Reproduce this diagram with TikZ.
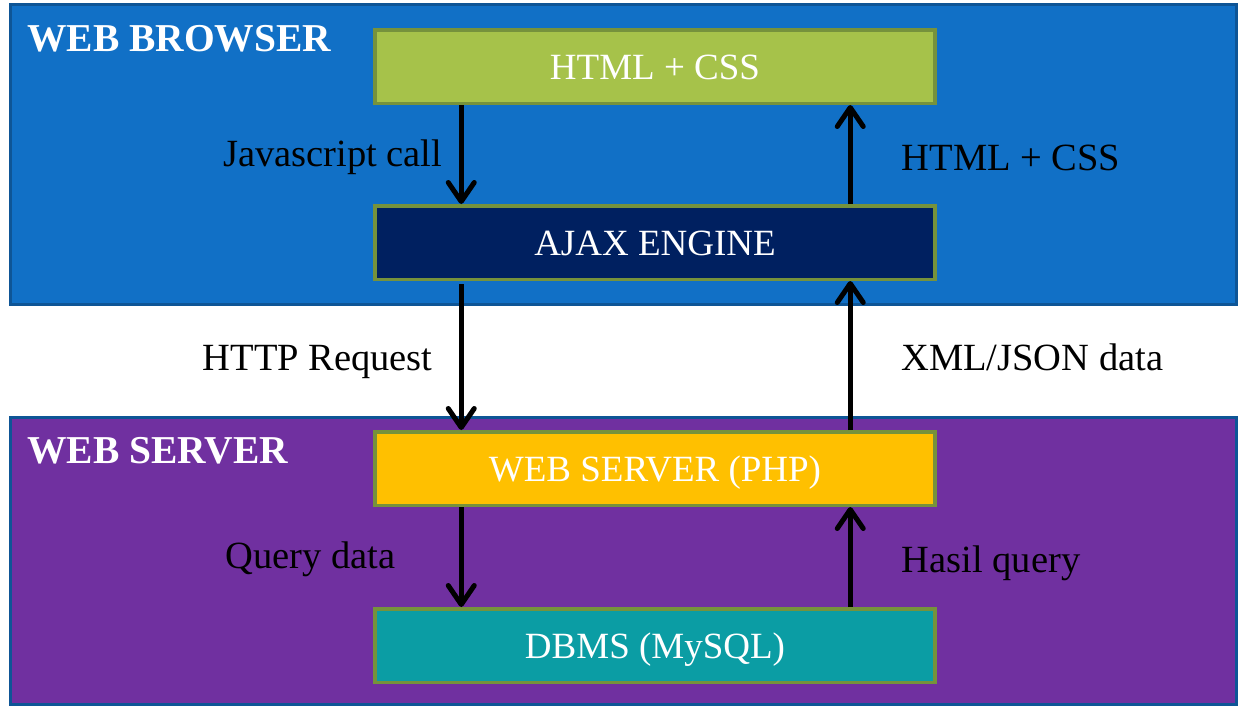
\documentclass[tikz,border=0pt]{standalone}
\usepackage{fontspec}
\setmainfont{Liberation Serif}
\usetikzlibrary{arrows.meta}
\definecolor{panelblue}{HTML}{1170C6}
\definecolor{panelpurple}{HTML}{7030A0}
\definecolor{paneledge}{HTML}{0E5596}
\definecolor{boxedge}{HTML}{76923C}
\definecolor{htmlgreen}{HTML}{A6C24A}
\definecolor{ajaxnavy}{HTML}{002060}
\definecolor{phpyellow}{HTML}{FFC000}
\definecolor{dbteal}{HTML}{0B9DA4}
\tikzset{
  panel/.style={draw=paneledge, line width=3pt, inner sep=0pt, minimum width=1225.5pt, minimum height=300pt},
  compbox/.style={draw=boxedge, line width=3.5pt, inner sep=0pt, minimum width=560pt, minimum height=73.5pt,
    text=white, font=\fontsize{37}{40}\selectfont, text height=26pt, text depth=0pt},
  title/.style={anchor=base west, inner sep=0pt, text=white, font=\fontsize{39.5}{44}\selectfont\bfseries},
  lbl/.style={anchor=base west, inner sep=0pt, text=black, font=\fontsize{38.5}{42}\selectfont},
  flow/.style={line width=5pt, -{Straight Barb[length=19pt,width=26pt,line cap=round,line join=round]}}
}
\begin{document}
\begin{tikzpicture}[x=1pt,y=-1pt]
\useasboundingbox (0,0) rectangle (1238,707);
\fill[white] (0,0) rectangle (1238,707);
% panels
\node[panel, fill=panelblue, minimum height=300pt] (browser) at (623.25,154.5) {};
\node[panel, fill=panelpurple, minimum height=287pt] (server) at (623.25,561) {};
\node[title] (tb) at (27,51.7) {WEB BROWSER};
\node[title] (ts) at (27,463.3) {WEB SERVER};
% component boxes
\node[compbox, fill=htmlgreen] (html) at (655,66.5) {HTML + CSS};
\node[compbox, fill=ajaxnavy] (ajax) at (655,242.5) {AJAX ENGINE};
\node[compbox, fill=phpyellow] (php) at (655,468.5) {WEB SERVER (PHP)};
\node[compbox, fill=dbteal] (db) at (655,645.5) {DBMS (MySQL)};
% arrows
\draw[flow] ([xshift=88pt]html.south west) -- ([xshift=88pt]ajax.north west);
\draw[flow] ([xshift=477pt]ajax.north west) -- ([xshift=477pt]html.south west);
\draw[flow] ([xshift=88pt,yshift=-3pt]ajax.south west) -- ([xshift=88pt]php.north west);
\draw[flow] ([xshift=477pt]php.north west) -- ([xshift=477pt]ajax.south west);
\draw[flow] ([xshift=88pt]php.south west) -- ([xshift=88pt]db.north west);
\draw[flow] ([xshift=477pt]db.north west) -- ([xshift=477pt]php.south west);
% labels
\node[lbl] (l1) at (223,166.7) {Javascript call};
\node[lbl] (l2) at (901.5,170.7) {HTML + CSS};
\node[lbl] (l3) at (202.5,370) {HTTP Request};
\node[lbl] (l4) at (901,370) {XML/JSON data};
\node[lbl] (l5) at (225,568.3) {Query data};
\node[lbl] (l6) at (901.5,572.7) {Hasil query};
\end{tikzpicture}
\end{document}
